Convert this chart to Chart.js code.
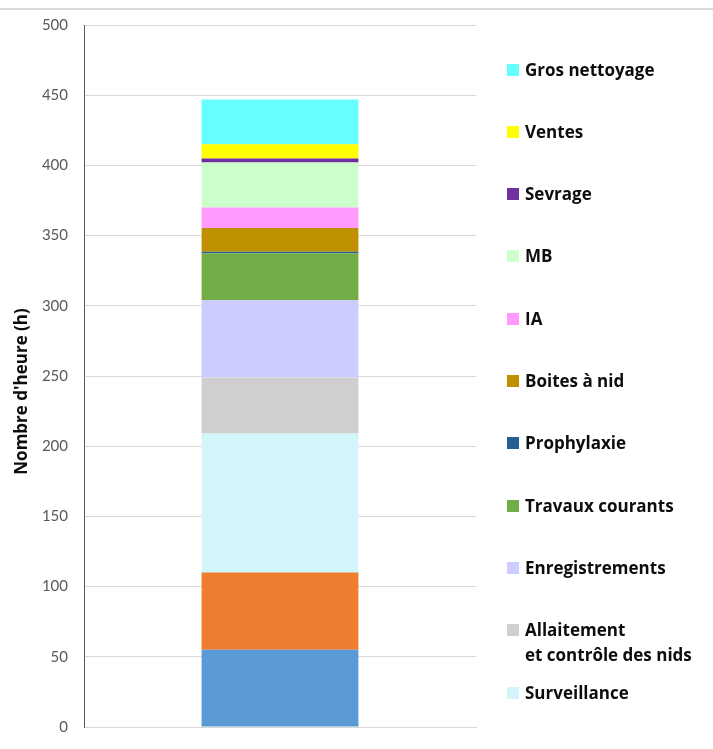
<!DOCTYPE html>
<html>
<head>
<meta charset="utf-8">
<script src="https://cdn.jsdelivr.net/npm/chart.js@4/dist/chart.umd.min.js"></script>
<style>
  html, body { margin: 0; padding: 0; background: #fff; }
  #wrap { position: relative; width: 713px; height: 749px; }
  #topline { position: absolute; left: 0; top: 8px; width: 713px; height: 2px; background: #d9d9d9; }
  #legend { position: absolute; left: 0; top: 0; width: 713px; height: 749px; pointer-events: none; }
  .item { position: absolute; left: 507px; font: bold 17px "Open Sans", "Liberation Sans", sans-serif; color: #0d0d0d; line-height: 25px; white-space: nowrap; }
  .box { position: absolute; left: 0; top: 6px; width: 12px; height: 12px; }
  .txt { position: absolute; left: 18px; top: -1px; }
</style>
</head>
<body>
<div id="wrap">
  <canvas id="chart" width="713" height="749"></canvas>
  <div id="topline"></div>
  <div id="legend"></div>
</div>
<script>
document.addEventListener("DOMContentLoaded", () => {

  // stack order, bottom to top
  const seriesNames = ["", "", "Surveillance", ["Allaitement", "et contrôle des nids"], "Enregistrements",
    "Travaux courants", "Prophylaxie", "Boites à nid", "IA", "MB", "Sevrage", "Ventes", "Gros nettoyage"];
  const seriesValues = [55, 55, 99, 40, 55, 33.5, 1, 17, 14.5, 32, 3, 10, 32];
  const seriesColors = ["#5b9bd5", "#ed7d31", "#d1f5f8", "#d0cece", "#ccccff", "#70ad47", "#255e91",
    "#bf9000", "#ff99ff", "#ccffcc", "#7030a0", "#ffff00", "#66ffff"];
  const inLegend = [false, false, true, true, true, true, true, true, true, true, true, true, true];
  const yTicks = [0, 50, 100, 150, 200, 250, 300, 350, 400, 450, 500];

  const datasets = seriesValues.map((val, i) => ({
    label: Array.isArray(seriesNames[i]) ? seriesNames[i].join(" ") : seriesNames[i],
    data: [val],
    backgroundColor: seriesColors[i],
    borderWidth: 0,
    barPercentage: 0.4,
    categoryPercentage: 1
  }));

  const ctx = document.getElementById("chart").getContext("2d");
  new Chart(ctx, {
    type: "bar",
    data: { labels: [""], datasets },
    options: {
      responsive: false,
      animation: false,
      layout: { padding: { top: 25, bottom: 22, right: 237, left: 0 } },
      plugins: { legend: { display: false }, tooltip: { enabled: false } },
      scales: {
        x: {
          stacked: true,
          grid: { display: false },
          border: { color: "#d9d9d9", width: 1 },
          ticks: { display: false },
          afterFit: s => { s.height = 0; }
        },
        y: {
          stacked: true,
          min: 0,
          max: 500,
          afterBuildTicks: s => { s.ticks = yTicks.map(v => ({ value: v })); },
          afterFit: s => { s.width = 84; s.paddingTop = 0; s.paddingBottom = 0; },
          grid: { color: "#d9d9d9", drawTicks: false },
          border: { color: "#595959", width: 1 },
          ticks: { color: "#595959", padding: 16, font: { family: "Lato", size: 15 } },
          title: {
            display: true,
            // trailing spaces nudge the centred title downward like the original
            text: "Nombre d'heure (h)\u00a0\u00a0\u00a0\u00a0\u00a0\u00a0\u00a0",
            color: "#0d0d0d",
            font: { family: "Open Sans", size: 17, weight: "bold" },
            padding: { top: 12, bottom: 4 }
          }
        }
      }
    }
  });

  // legend, top to bottom = reverse of stack
  const legend = document.getElementById("legend");
  let row = 0;
  for (let i = seriesNames.length - 1; i >= 0; i--) {
    if (!inLegend[i]) continue;
    const item = document.createElement("div");
    item.className = "item";
    item.style.top = (57.5 + row * 62.3) + "px";
    const box = document.createElement("div");
    box.className = "box";
    box.style.background = seriesColors[i];
    const txt = document.createElement("div");
    txt.className = "txt";
    txt.innerHTML = [].concat(seriesNames[i]).join("<br>");
    item.appendChild(box);
    item.appendChild(txt);
    legend.appendChild(item);
    row++;
  }
});
</script>
</body>
</html>
